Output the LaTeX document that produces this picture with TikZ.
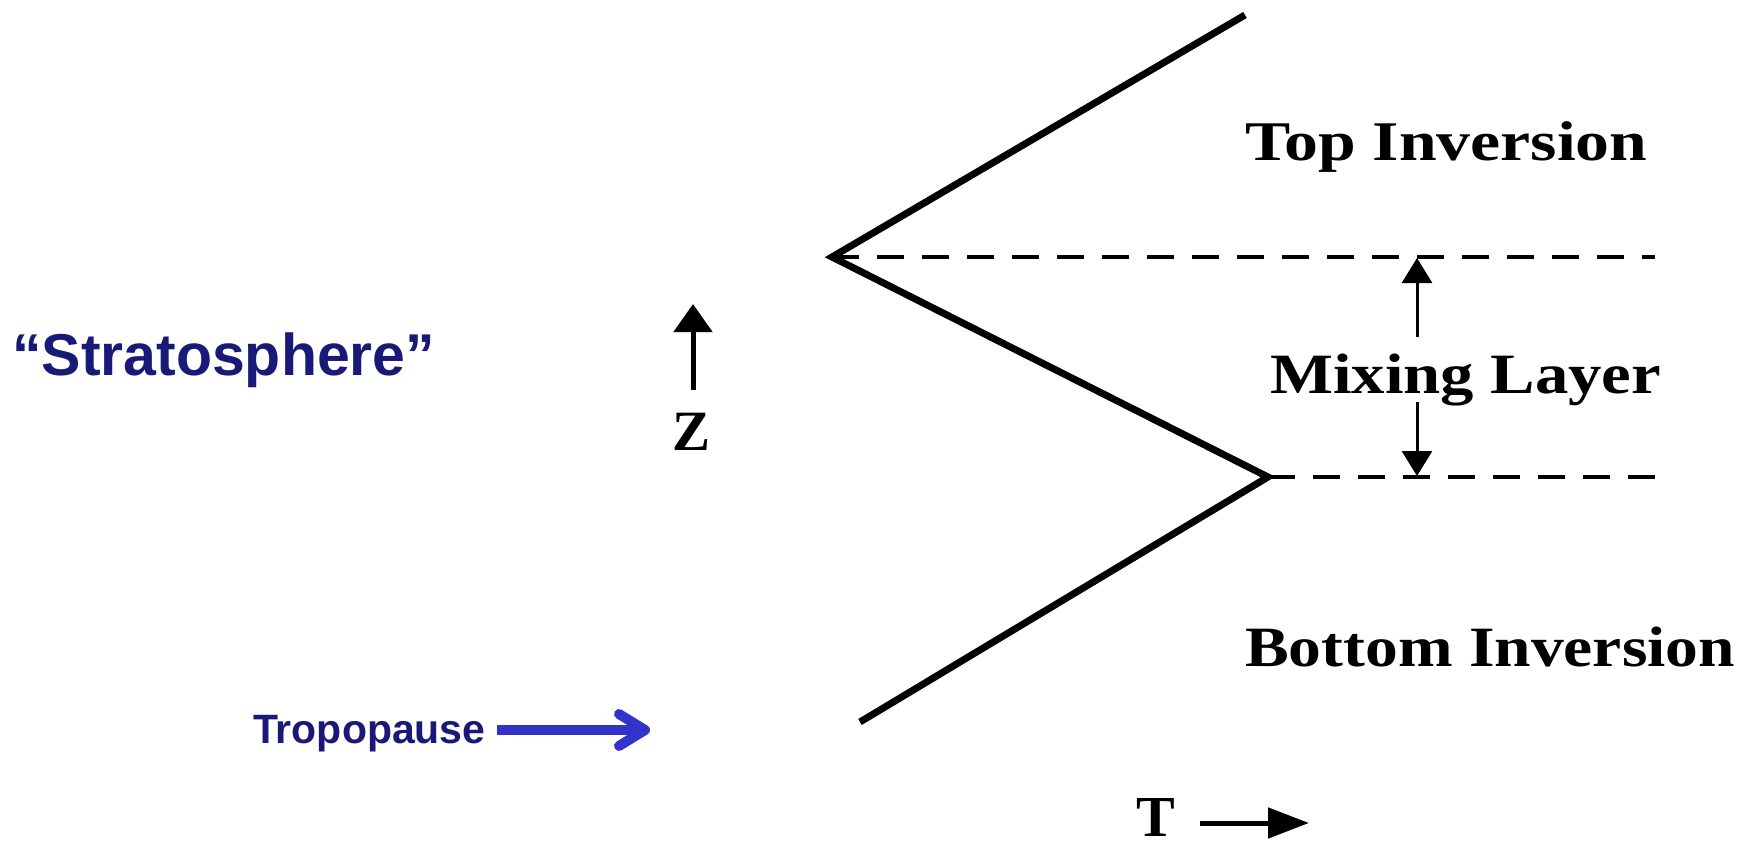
\documentclass[tikz,border=0pt]{standalone}
\usepackage{fontspec}
\setmainfont{Liberation Serif}
\newfontfamily\arialfont{Liberation Sans}
\usetikzlibrary{arrows.meta}
\definecolor{navy}{RGB}{25,25,120}
\definecolor{tropoblue}{RGB}{51,51,204}
\begin{document}
\begin{tikzpicture}[x=1pt,y=-1pt,
  lbl/.style={inner sep=0pt,anchor=base west,font=\bfseries,transform shape},
  bluelbl/.style={inner sep=0pt,anchor=base west,text=navy},
  profile/.style={line width=7pt,line join=miter},
  level/.style={line width=4pt,dash pattern=on 27pt off 18pt},
  smallarrow/.style={line width=3pt,-{Triangle[length=25pt,width=30pt]}},
  axisarrow/.style={line width=5pt,-{Triangle[length=28pt,width=38pt]}}]
\useasboundingbox (0,0) rectangle (1756,843);
% profile
\coordinate (A) at (1245,15);
\coordinate (B) at (832,257);
\coordinate (C) at (1268,477);
\coordinate (D) at (860,722);
\draw[profile] (A) -- (B) -- (C) -- (D);
% levels
\coordinate (Bend) at (1655,257);
\coordinate (Cend) at (1655,477);
\draw[level] (B) -- (Bend);
\draw[level] (C) -- (Cend);
% labels
\node[lbl,font=\bfseries\fontsize{56}{60}\selectfont,xscale=1.21] (top) at (1245,160) {Top Inversion};
\node[lbl,font=\bfseries\fontsize{57}{60}\selectfont,xscale=1.17] (mix) at (1270,393) {Mixing Layer};
\node[lbl,font=\bfseries\fontsize{57}{60}\selectfont,xscale=1.15] (bot) at (1245,666) {Bottom Inversion};
% mixing arrows
\coordinate (m1) at (1417,337);
\coordinate (m1t) at (1417,258);
\coordinate (m2) at (1417,402);
\coordinate (m2t) at (1417,476);
\draw[smallarrow] (m1) -- (m1t);
\draw[smallarrow] (m2) -- (m2t);
% Z axis
\node[lbl,font=\bfseries\fontsize{57}{60}\selectfont] (Z) at (672,450) {Z};
\coordinate (z0) at (693,390);
\coordinate (z1) at (693,304);
\draw[axisarrow] (z0) -- (z1);
% T axis
\node[lbl,font=\bfseries\fontsize{58}{64}\selectfont] (T) at (1136,836) {T};
\coordinate (t0) at (1200,823);
\coordinate (t1) at (1309,823);
\draw[line width=5pt,-{Triangle[length=41pt,width=30pt]}] (t0) -- (t1);
% Stratosphere
\node[bluelbl,font=\arialfont\bfseries\fontsize{59}{62}\selectfont] (strat) at (12,375) {“Stratosphere”};
% Tropopause
\node[bluelbl,font=\arialfont\bfseries\fontsize{41}{44}\selectfont] (tropo) at (253,743) {Tropopause};
\coordinate (tp0) at (497,730);
\coordinate (tp1) at (650,730);
\draw[tropoblue,line width=10pt,-{Straight Barb[length=26pt,width=32pt,line cap=round,line join=round]}] (tp0) -- (tp1);
\end{tikzpicture}
\end{document}
